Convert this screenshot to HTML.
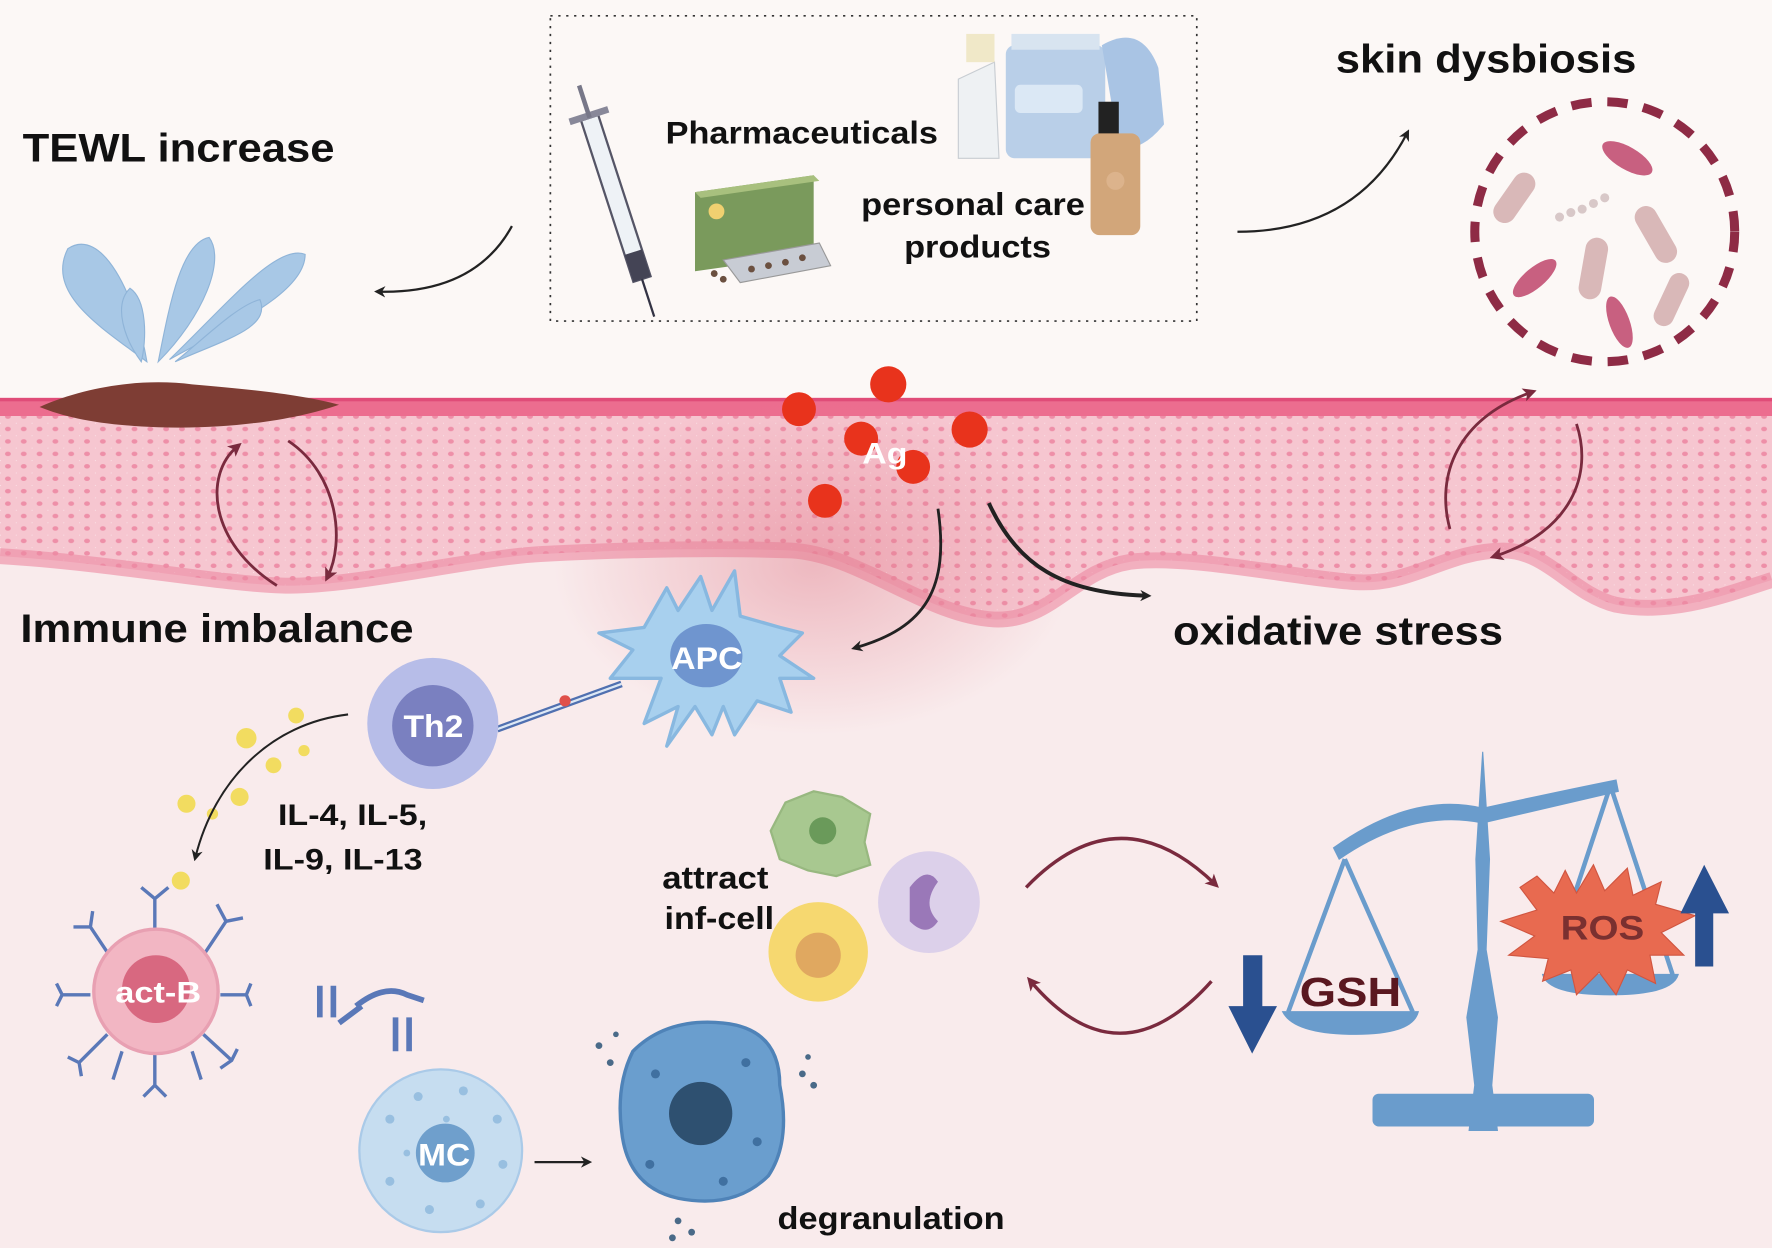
<!DOCTYPE html>
<html><head><meta charset="utf-8"><style>
html,body{margin:0;padding:0;background:#fcf8f6}
svg{display:block}
text{font-family:"Liberation Sans",Arial,sans-serif;font-weight:bold}
</style></head><body>
<svg width="1772" height="1248" viewBox="0 0 1568 1104" preserveAspectRatio="none" xmlns="http://www.w3.org/2000/svg">
<defs>
<pattern id="dots" width="14" height="11" patternUnits="userSpaceOnUse">
<rect width="14" height="11" fill="#f6c6d0"/>
<ellipse cx="7" cy="5.5" rx="2.6" ry="2" fill="#ee8fa8"/>
<circle cx="0" cy="0" r="1" fill="#fbe3e8"/>
</pattern>
<radialGradient id="glow" cx="0.5" cy="0.5" r="0.5">
<stop offset="0" stop-color="#e07b8a" stop-opacity="0.45"/>
<stop offset="1" stop-color="#e07b8a" stop-opacity="0"/>
</radialGradient>
<marker id="ah" markerWidth="10" markerHeight="10" refX="6" refY="5" orient="auto" markerUnits="userSpaceOnUse">
<path d="M0,0 L10,5 L0,10 L3,5z" fill="#222"/>
</marker>
<marker id="ahr" markerWidth="12" markerHeight="12" refX="7" refY="6" orient="auto" markerUnits="userSpaceOnUse">
<path d="M0,0 L12,6 L0,12 L3,6z" fill="#7a2a3e"/>
</marker>
</defs>
<rect width="1568" height="1104" fill="#fcf8f6"/>
<rect y="480" width="1568" height="624" fill="#f9ebec"/>
<!-- skin -->
<path d="M0,352 L1568,352 L1568,513 C1530,525 1480,545 1430,535 C1390,525 1370,487 1330,487 C1280,487 1250,518 1200,515 C1150,512 1050,490 1000,497 C950,505 930,550 880,548 C820,545 760,490 700,487 C620,484 540,487 480,490 C420,493 310,520 250,518 C190,516 100,498 0,492 Z" fill="url(#dots)"/>
<path d="M0,492 C100,498 190,516 250,518 C310,520 420,493 480,490 C540,487 620,484 700,487 C760,490 820,545 880,548 C930,550 950,505 1000,497 C1050,490 1150,512 1200,515 C1250,518 1280,487 1330,487 C1370,487 1390,525 1430,535 C1480,545 1530,525 1568,513" fill="none" stroke="#ec88a2" stroke-width="14" opacity="0.6"/>
<rect y="352" width="1568" height="16" fill="#ec6d8f"/>
<rect y="352" width="1568" height="3" fill="#e04c78"/>
<ellipse cx="720" cy="500" rx="230" ry="150" fill="url(#glow)"/>
<!-- dotted box -->
<rect x="487" y="14" width="572" height="270" fill="none" stroke="#333" stroke-width="1.5" stroke-dasharray="2,5"/>
<!-- syringe -->
<g transform="rotate(-18 548 185)">
<rect x="540" y="100" width="16" height="150" fill="#eef2f6" stroke="#556" stroke-width="2"/>
<rect x="540" y="225" width="16" height="25" fill="#445"/>
<rect x="530" y="95" width="36" height="6" fill="#889"/>
<line x1="548" y1="250" x2="548" y2="285" stroke="#334" stroke-width="2"/>
<line x1="548" y1="70" x2="548" y2="100" stroke="#778" stroke-width="4"/>
</g>
<!-- pills box -->
<polygon points="615,170 720,155 720,225 615,240" fill="#7a9a5c"/>
<polygon points="615,170 720,155 725,160 620,175" fill="#a8c07e"/>
<circle cx="634" cy="187" r="7" fill="#f0d070"/>
<polygon points="640,230 725,215 735,235 655,250" fill="#c8ccd4" stroke="#999"/>
<g fill="#6b5040"><circle cx="665" cy="238" r="3"/><circle cx="680" cy="235" r="3"/><circle cx="695" cy="232" r="3"/><circle cx="710" cy="228" r="3"/><circle cx="640" cy="247" r="3"/><circle cx="632" cy="242" r="3"/></g>
<!-- bottles -->
<path d="M848,70 L880,55 L884,140 L848,140 Z" fill="#eef1f3" stroke="#c8cdd2"/>
<rect x="855" y="30" width="25" height="25" fill="#f0e8c8"/>
<rect x="890" y="40" width="88" height="100" rx="8" fill="#b9cfe8"/>
<rect x="895" y="30" width="78" height="14" fill="#d8e4f0"/>
<rect x="898" y="75" width="60" height="25" rx="5" fill="#dbe8f5"/>
<path d="M975,40 Q1010,20 1025,60 L1030,110 Q1010,135 990,130 Z" fill="#a9c4e4"/>
<rect x="972" y="90" width="18" height="30" fill="#222"/>
<rect x="965" y="118" width="44" height="90" rx="8" fill="#d2a67a"/>
<circle cx="987" cy="160" r="8" fill="#dcb38c"/>
<text x="589" y="127" font-size="28" fill="#111" textLength="241" lengthAdjust="spacingAndGlyphs">Pharmaceuticals</text>
<text x="762" y="190" font-size="28" fill="#111" textLength="198" lengthAdjust="spacingAndGlyphs">personal care</text>
<text x="800" y="228" font-size="28" fill="#111" textLength="130" lengthAdjust="spacingAndGlyphs">products</text>
<!-- titles -->
<text x="20" y="143" font-size="35" fill="#111" textLength="276" lengthAdjust="spacingAndGlyphs">TEWL increase</text>
<text x="1182" y="64" font-size="35" fill="#111" textLength="266" lengthAdjust="spacingAndGlyphs">skin dysbiosis</text>
<text x="18" y="568" font-size="35" fill="#111" textLength="348" lengthAdjust="spacingAndGlyphs">Immune imbalance</text>
<text x="1038" y="570" font-size="35" fill="#111" textLength="292" lengthAdjust="spacingAndGlyphs">oxidative stress</text>
<!-- arrows top -->
<path d="M453,200 Q420,260 335,258" fill="none" stroke="#222" stroke-width="2" marker-end="url(#ah)"/>
<path d="M1095,205 Q1200,205 1245,118" fill="none" stroke="#222" stroke-width="2" marker-end="url(#ah)"/>
<!-- water drops -->
<g fill="#a8c8e6" stroke="#8fb4d8">
<path d="M130,320 C90,290 40,260 60,220 C90,200 120,260 130,320Z"/>
<path d="M125,320 C110,300 100,270 115,255 C130,265 130,300 125,320Z"/>
<path d="M140,320 C180,280 200,230 185,210 C160,215 150,270 140,320Z"/>
<path d="M150,318 C200,290 270,260 270,225 C245,215 200,270 150,318Z"/>
<path d="M155,320 C200,300 240,290 230,265 C210,270 180,300 155,320Z"/>
</g>
<path d="M35,360 C80,340 130,335 170,340 C230,345 270,350 300,358 C260,372 200,380 140,378 C90,376 60,370 35,360Z" fill="#7e3d34"/>
<!-- bacteria -->
<circle cx="1420" cy="205" r="115" fill="none" stroke="#8e2b45" stroke-width="8" stroke-dasharray="18,14"/>
<g fill="#d9b8b8">
<rect x="1330" y="150" width="20" height="50" rx="10" transform="rotate(35 1340 175)"/>
<rect x="1455" y="180" width="20" height="55" rx="10" transform="rotate(-30 1465 207)"/>
<rect x="1400" y="210" width="20" height="55" rx="10" transform="rotate(10 1410 237)"/>
<rect x="1470" y="240" width="18" height="50" rx="9" transform="rotate(25 1479 265)"/>
</g>
<g fill="#c86080"><ellipse cx="1440" cy="140" rx="25" ry="10" transform="rotate(30 1440 140)"/><ellipse cx="1358" cy="246" rx="24" ry="9" transform="rotate(-40 1358 246)"/><ellipse cx="1433" cy="285" rx="9" ry="24" transform="rotate(-20 1433 285)"/></g>
<g fill="#d8c8c8"><circle cx="1380" cy="192" r="4"/><circle cx="1390" cy="188" r="4"/><circle cx="1400" cy="185" r="4"/><circle cx="1410" cy="180" r="4"/><circle cx="1420" cy="175" r="4"/></g>
<!-- cycle arrows -->
<path d="M245,518 C185,480 180,420 210,395" fill="none" stroke="#7a2a3e" stroke-width="2.5" marker-end="url(#ahr)"/>
<path d="M255,390 C300,420 305,480 290,510" fill="none" stroke="#7a2a3e" stroke-width="2.5" marker-end="url(#ahr)"/>
<path d="M1283,468 C1270,420 1290,370 1355,347" fill="none" stroke="#7a2a3e" stroke-width="2.5" marker-end="url(#ahr)"/>
<path d="M1395,375 C1410,420 1390,470 1323,492" fill="none" stroke="#7a2a3e" stroke-width="2.5" marker-end="url(#ahr)"/>
<!-- Ag -->
<g fill="#e8331c"><circle cx="707" cy="362" r="15"/><circle cx="786" cy="340" r="16"/><circle cx="762" cy="388" r="15"/><circle cx="858" cy="380" r="16"/><circle cx="808" cy="413" r="15"/><circle cx="730" cy="443" r="15"/></g>
<text x="763" y="410" font-size="26" fill="#fff" textLength="40" lengthAdjust="spacingAndGlyphs">Ag</text>
<path d="M830,450 C840,520 820,555 757,573" fill="none" stroke="#222" stroke-width="2.5" marker-end="url(#ah)"/>
<path d="M875,445 C900,500 940,525 1015,527" fill="none" stroke="#222" stroke-width="3.5" marker-end="url(#ah)"/>
<!-- APC -->
<path d="M590,520 L600,540 L620,510 L630,540 L650,505 L655,545 L690,555 L710,560 L690,580 L720,600 L690,600 L700,630 L670,620 L650,650 L640,625 L630,650 L615,625 L590,660 L600,625 L570,640 L585,600 L540,600 L560,575 L530,560 L570,555 Z" fill="#a8d0ee" stroke="#88b8e0" stroke-width="3" stroke-linejoin="round"/>
<ellipse cx="625" cy="580" rx="32" ry="28" fill="#6f95cf"/>
<text x="594" y="592" font-size="28" fill="#fff" textLength="63" lengthAdjust="spacingAndGlyphs">APC</text>
<!-- Th2 -->
<line x1="440" y1="645" x2="550" y2="605" stroke="#5070b0" stroke-width="6"/>
<line x1="440" y1="645" x2="550" y2="605" stroke="#dde8f5" stroke-width="2"/>
<circle cx="500" cy="620" r="5" fill="#e0504a"/>
<circle cx="383" cy="640" r="58" fill="#b7bde8"/>
<circle cx="383" cy="642" r="36" fill="#7a80c0"/>
<text x="357" y="652" font-size="28" fill="#fff" textLength="53" lengthAdjust="spacingAndGlyphs">Th2</text>
<g fill="#f2dc60"><circle cx="262" cy="633" r="7"/><circle cx="218" cy="653" r="9"/><circle cx="269" cy="664" r="5"/><circle cx="242" cy="677" r="7"/><circle cx="212" cy="705" r="8"/><circle cx="165" cy="711" r="8"/><circle cx="188" cy="720" r="5"/><circle cx="160" cy="779" r="8"/></g>
<path d="M308,632 C240,640 190,690 173,758" fill="none" stroke="#222" stroke-width="1.8" marker-end="url(#ah)"/>
<text x="246" y="730" font-size="26" fill="#111" textLength="132" lengthAdjust="spacingAndGlyphs">IL-4, IL-5,</text>
<text x="233" y="769" font-size="26" fill="#111" textLength="141" lengthAdjust="spacingAndGlyphs">IL-9, IL-13</text>
<!-- act-B -->
<g stroke="#5a78b8" stroke-width="3" fill="none">
<path d="M137,840 L137,795 M125,785 L137,795 L149,785"/>
<path d="M100,850 L80,820 M65,820 L80,820 L82,806"/>
<path d="M180,845 L200,815 M192,800 L200,815 L215,812"/>
<path d="M80,880 L55,880 M50,870 L55,880 L50,890"/>
<path d="M195,880 L218,880 M222,870 L218,880 L222,890"/>
<path d="M95,915 L70,940 M60,935 L70,940 L72,952"/>
<path d="M180,915 L205,938 M210,928 L205,938 L195,945"/>
<path d="M137,925 L137,960 M127,970 L137,960 L147,970"/>
<path d="M108,930 L100,955 M170,930 L178,955"/>
</g>
<circle cx="138" cy="877" r="55" fill="#f2b6c3" stroke="#e8a0b2" stroke-width="3"/>
<circle cx="138" cy="875" r="30" fill="#d86880"/>
<text x="102" y="887" font-size="26" fill="#fff" textLength="76" lengthAdjust="spacingAndGlyphs">act-B</text>
<!-- MC -->
<g stroke="#5a78b8" stroke-width="5" fill="none"><path d="M283,872 L283,900 M295,872 L295,900 M300,905 L320,890"/><path d="M350,900 L350,930 M362,900 L362,930"/><path d="M315,890 Q340,870 360,880 L375,885"/></g>
<circle cx="390" cy="1018" r="72" fill="#c6ddf0" stroke="#aacae8" stroke-width="2"/>
<g fill="#98bfe0"><circle cx="345" cy="990" r="4"/><circle cx="370" cy="970" r="4"/><circle cx="410" cy="965" r="4"/><circle cx="440" cy="990" r="4"/><circle cx="445" cy="1030" r="4"/><circle cx="425" cy="1065" r="4"/><circle cx="380" cy="1070" r="4"/><circle cx="345" cy="1045" r="4"/><circle cx="395" cy="990" r="3"/><circle cx="360" cy="1020" r="3"/></g>
<circle cx="394" cy="1020" r="26" fill="#6f9fcc"/>
<text x="370" y="1031" font-size="28" fill="#fff" textLength="46" lengthAdjust="spacingAndGlyphs">MC</text>
<line x1="473" y1="1028" x2="520" y2="1028" stroke="#222" stroke-width="2" marker-end="url(#ah)"/>
<!-- degranulation -->
<path d="M560,930 Q590,900 640,905 Q690,910 690,960 Q700,1010 680,1040 Q650,1070 600,1060 Q555,1050 550,1000 Q545,960 560,930Z" fill="#6a9ece" stroke="#4f83b8" stroke-width="3"/>
<circle cx="620" cy="985" r="28" fill="#2e5070"/>
<g fill="#4070a0"><circle cx="580" cy="950" r="4"/><circle cx="660" cy="940" r="4"/><circle cx="670" cy="1010" r="4"/><circle cx="575" cy="1030" r="4"/><circle cx="640" cy="1045" r="4"/></g>
<g fill="#4a6a88"><circle cx="530" cy="925" r="3"/><circle cx="540" cy="940" r="3"/><circle cx="545" cy="915" r="2.5"/><circle cx="710" cy="950" r="3"/><circle cx="720" cy="960" r="3"/><circle cx="715" cy="935" r="2.5"/><circle cx="600" cy="1080" r="3"/><circle cx="612" cy="1090" r="3"/><circle cx="595" cy="1095" r="3"/></g>
<text x="688" y="1087" font-size="28" fill="#111" textLength="201" lengthAdjust="spacingAndGlyphs">degranulation</text>
<!-- inf cells -->
<path d="M695,710 L720,700 L745,705 L770,720 L765,745 L770,765 L740,775 L715,770 L690,760 L682,735 Z" fill="#a8c890" stroke="#98b880" stroke-width="2"/>
<circle cx="728" cy="735" r="12" fill="#6a9a5a"/>
<circle cx="822" cy="798" r="45" fill="#dcd0ea"/>
<path d="M805,785 Q820,765 830,780 Q815,800 830,815 Q820,830 805,815Z" fill="#9a78b8"/>
<circle cx="724" cy="842" r="44" fill="#f6d870"/>
<circle cx="724" cy="845" r="20" fill="#e0a860"/>
<text x="586" y="786" font-size="28" fill="#111" textLength="94" lengthAdjust="spacingAndGlyphs">attract</text>
<text x="588" y="822" font-size="28" fill="#111" textLength="97" lengthAdjust="spacingAndGlyphs">inf-cell</text>
<path d="M908,785 Q990,700 1075,782" fill="none" stroke="#7a2a3e" stroke-width="3" marker-end="url(#ahr)"/>
<path d="M1072,868 Q990,960 912,868" fill="none" stroke="#7a2a3e" stroke-width="3" marker-end="url(#ahr)"/>
<!-- scale -->
<g fill="#6a9ccc" stroke="#6a9ccc">
<path d="M1300,1000 L1325,1000 L1320,960 L1325,900 L1315,840 L1318,760 L1312,665 L1306,760 L1308,840 L1298,900 L1305,960 Z"/>
<rect x="1215" y="968" width="195" height="28" rx="5"/>
<path d="M1180,750 Q1250,700 1312,715 Q1380,700 1430,690 L1432,700 Q1380,712 1312,728 Q1250,715 1185,760 Z"/>
<path d="M1135,895 L1255,895 Q1250,915 1200,915 Q1145,915 1135,895Z"/>
<path d="M1365,862 L1485,862 Q1480,880 1425,880 Q1370,880 1365,862Z"/>
</g>
<g stroke="#6a9ccc" stroke-width="4" fill="none"><path d="M1190,760 L1140,895 M1190,760 L1250,895"/><path d="M1425,695 L1370,862 M1425,695 L1480,862"/></g>
<path d="M1360,775 L1375,790 L1385,770 L1395,790 L1410,765 L1420,788 L1440,768 L1445,792 L1470,780 L1465,800 L1500,810 L1470,825 L1490,845 L1460,845 L1465,870 L1440,858 L1430,880 L1415,860 L1395,880 L1390,858 L1365,868 L1370,848 L1335,845 L1358,828 L1328,815 L1360,805 L1345,785 Z" fill="#e86a50" stroke="#d05540" stroke-width="1"/>
<text x="1381" y="831" font-size="30" fill="#7a3030" font-weight="normal" textLength="74" lengthAdjust="spacingAndGlyphs">ROS</text>
<text x="1150" y="890" font-size="36" fill="#5a1820" font-weight="normal" textLength="90" lengthAdjust="spacingAndGlyphs">GSH</text>
<path d="M1100,845 L1117,845 L1117,890 L1130,890 L1108,932 L1087,890 L1100,890 Z" fill="#2a5090"/>
<path d="M1500,855 L1516,855 L1516,808 L1530,808 L1508,765 L1487,808 L1500,808 Z" fill="#2a5090"/>
</svg>
</body></html>
